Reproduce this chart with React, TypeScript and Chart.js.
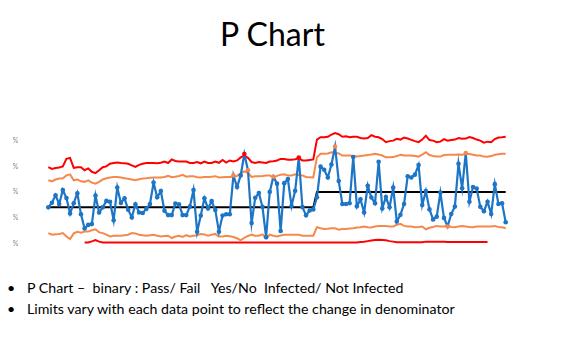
import React, { useEffect, useRef } from "react";
import { Chart, registerables } from "chart.js";

Chart.register(...registerables);

// Sample proportions (%), one per subgroup
const proportion: number[] = [
  14.1, 15.9, 18.8, 15.4, 20.8, 17.7, 11.7, 15.7, 19.6, 11.4,
  5.9, 7.3, 7.6, 18.7, 12.1, 14.1, 16.6, 16.3, 9.1, 21.8,
  15.8, 17.6, 13.2, 10.2, 15.3, 12.1, 11.9, 13.5, 15.4, 23.7,
  18.0, 20.4, 12.8, 11.1, 11.1, 15.6, 15.3, 11.1, 11.1, 14.4,
  20.8, 4.6, 10.9, 17.6, 13.7, 16.5, 13.1, 4.6, 10.9, 11.4,
  11.4, 26.5, 22.0, 26.5, 34.8, 28.5, 8.0, 17.8, 19.7, 14.3,
  2.5, 20.1, 26.0, 23.3, 4.9, 23.5, 25.1, 14.6, 20.5, 33.4,
  14.2, 11.0, 12.9, 13.3, 18.0, 29.9, 28.7, 25.7, 30.7, 37.7,
  24.3, 15.4, 15.4, 15.7, 33.6, 14.5, 17.2, 12.1, 22.5, 17.9,
  15.7, 31.8, 13.7, 18.1, 14.1, 21.8, 8.6, 11.2, 15.4, 26.2,
  25.7, 26.8, 30.5, 15.0, 20.4, 13.3, 9.4, 10.5, 19.8, 10.0,
  6.7, 11.5, 14.4, 31.0, 21.5, 35.2, 16.3, 22.0, 21.4, 14.3,
  12.6, 16.3, 11.5, 23.1, 15.4, 15.7, 8.3,
];

// Centre line per phase
const phaseCentre: number[] = [14.1, 20.1];
const phaseStartSample: number[] = [1, 75];

// Upper control limit (3 sigma)
const ucl: number[] = [
  29.7, 29.0, 29.4, 29.6, 30.0, 32.9, 33.3, 29.4, 29.7, 29.7,
  28.5, 29.2, 27.9, 27.4, 28.5, 29.7, 30.0, 31.0, 31.3, 31.5,
  31.3, 31.2, 31.0, 30.4, 29.8, 30.6, 31.0, 31.3, 31.3, 31.3,
  31.2, 31.4, 31.9, 31.3, 32.7, 32.1, 31.9, 31.9, 31.9, 31.3,
  31.3, 31.7, 31.2, 31.9, 31.3, 31.3, 31.9, 31.4, 32.5, 31.5,
  32.3, 31.9, 32.3, 33.5, 34.2, 33.3, 31.7, 31.3, 31.7, 31.5,
  31.3, 31.9, 32.0, 32.3, 32.9, 32.9, 32.6, 32.6, 32.8, 33.1,
  32.3, 32.3, 32.5, 32.7, 40.4, 41.3, 41.3, 41.5, 42.3, 42.9,
  42.5, 41.5, 41.7, 41.3, 41.5, 41.5, 41.0, 40.8, 41.0, 42.1,
  41.5, 41.3, 40.6, 39.4, 39.8, 40.0, 40.7, 40.4, 41.2, 40.8,
  40.3, 39.8, 39.4, 40.4, 41.9, 40.2, 40.0, 39.4, 39.6, 40.6,
  40.0, 40.2, 40.4, 41.0, 40.7, 40.8, 41.4, 41.0, 40.4, 40.0,
  39.2, 39.6, 39.4, 40.6, 41.2, 41.3, 41.5,
];

// Upper warning limit (2 sigma)
const uwl: number[] = [
  24.6, 24.2, 24.9, 25.3, 25.4, 26.5, 26.9, 24.6, 24.9, 24.2,
  24.0, 24.6, 23.7, 23.3, 24.0, 24.9, 25.4, 25.7, 25.9, 25.9,
  25.7, 25.4, 25.2, 24.9, 24.6, 25.0, 25.3, 25.4, 25.6, 25.7,
  25.7, 25.7, 25.9, 26.3, 25.8, 26.0, 26.3, 26.7, 26.0, 26.2,
  26.2, 25.8, 25.7, 25.9, 25.9, 26.0, 26.2, 25.7, 25.8, 25.9,
  25.9, 26.0, 26.3, 27.3, 28.1, 27.5, 25.9, 26.2, 26.2, 26.3,
  26.5, 26.5, 25.6, 26.3, 26.8, 26.9, 26.5, 26.5, 26.9, 26.7,
  26.5, 25.9, 25.8, 25.7, 33.5, 34.9, 34.9, 35.0, 35.5, 35.3,
  35.0, 34.2, 34.2, 34.2, 34.0, 33.8, 34.0, 34.2, 34.4, 34.6,
  34.9, 34.6, 34.2, 33.5, 33.5, 33.6, 34.0, 34.5, 34.2, 34.2,
  34.2, 34.0, 33.8, 34.6, 35.5, 34.4, 34.0, 33.8, 33.8, 34.4,
  34.5, 34.5, 34.5, 34.6, 34.5, 34.8, 34.8, 34.5, 34.2, 34.2,
  33.8, 33.7, 34.0, 34.5, 34.7, 34.9, 34.9,
];

// Lower warning limit (2 sigma)
const lwl: number[] = [
  4.1, 3.5, 3.7, 3.8, 4.1, 2.8, 1.8, 4.0, 4.6, 4.3,
  4.7, 4.7, 5.2, 5.6, 4.4, 4.1, 3.5, 2.8, 3.1, 3.1,
  3.1, 3.3, 3.5, 4.1, 4.0, 3.5, 3.3, 3.1, 3.3, 3.5,
  3.1, 2.8, 3.0, 3.1, 2.2, 2.8, 3.1, 2.6, 3.3, 2.8,
  3.1, 3.3, 3.8, 3.6, 3.1, 3.5, 3.8, 2.8, 2.8, 3.1,
  2.9, 2.6, 2.1, 1.3, 2.3, 3.0, 3.5, 3.1, 3.1, 3.6,
  2.1, 3.5, 3.1, 2.8, 3.2, 3.5, 3.5, 3.5, 3.5, 3.5,
  3.1, 3.1, 3.1, 3.1, 6.4, 6.0, 5.7, 5.8, 6.0, 6.0,
  5.4, 5.7, 5.7, 5.9, 6.0, 6.3, 6.4, 6.7, 6.4, 6.3,
  6.7, 6.9, 6.9, 6.9, 6.7, 6.7, 7.3, 7.7, 6.9, 6.7,
  6.7, 6.4, 6.5, 6.7, 5.6, 6.2, 6.5, 6.9, 6.7, 6.7,
  7.0, 6.5, 6.4, 6.7, 6.9, 6.7, 6.5, 6.4, 6.7, 6.7,
  6.7, 6.7, 6.7, 6.9, 6.5, 6.4, 6.0,
];

// Lower control limit (3 sigma), shown only where it exists
const lcl: (number | null)[] = [
  null, null, null, null, null, null, null, null, null, null,
  0.5, 0.5, 0.9, 1.4, 0.8, 0.5, 0.5, 0.5, 0.5, 0.5,
  0.5, 0.5, 0.5, 0.5, 0.5, 0.5, 0.5, 0.5, 0.5, 0.5,
  0.5, 0.5, 0.5, 0.5, 0.5, 0.5, 0.5, 0.5, 0.5, 0.5,
  0.5, 0.5, 0.5, 0.5, 0.5, 0.5, 0.5, 0.5, 0.5, 0.5,
  0.5, 0.5, 0.5, 0.5, 0.5, 0.5, 0.5, 0.5, 0.5, 0.5,
  0.5, 0.5, 0.5, 0.5, 0.5, 0.5, 0.5, 0.5, 0.5, 0.5,
  0.5, 0.5, 0.5, 0.5, 0.5, 0.5, 0.5, 0.5, 0.5, 0.5,
  0.5, 0.5, 0.5, 0.5, 0.5, 0.5, 0.7, 0.8, 1.0, 1.2,
  1.4, 1.5, 1.4, 1.3, 1.0, 0.8, 0.6, 0.6, 0.6, 0.6,
  0.6, 0.6, 0.6, 0.6, 0.8, 0.8, 0.8, 0.8, 0.8, 0.8,
  0.7, 0.7, 0.7, 0.7, 0.7, 0.7, 0.7, 0.7, 0.7, 0.7,
  0.7, 0.7, null, null, null, null, null,
];

const yTickValues: number[] = [0, 10, 20, 30, 40];
const yTickLabel = "%";

const titleText = "P Chart";
const bullets: string[] = [
  "P Chart \u2013  binary : Pass/ Fail   Yes/No  Infected/ Not Infected",
  "Limits vary with each data point to reflect the change in denominator",
];

const RED = "#FF0000";
const ORANGE = "#F5894B";
const BLUE = "#1C75C6";

function PChart() {
  const ref = useRef<HTMLCanvasElement | null>(null);
  useEffect(() => {
    if (!ref.current) return;
    const labels = proportion.map((_, i) => String(i + 1));
    const centre = proportion.map((_, i) => {
      let c = phaseCentre[0];
      phaseStartSample.forEach((s, p) => {
        if (i + 1 >= s) c = phaseCentre[p];
      });
      return c;
    });
    const pointColors = proportion.map((v, i) => {
      const lo = lcl[i];
      if (v > ucl[i] || (lo !== null && v < lo)) return RED;
      if (v > uwl[i] || v < lwl[i]) return ORANGE;
      return BLUE;
    });
    const limitLine = (data: (number | null)[], color: string) => ({
      data,
      borderColor: color,
      borderWidth: 2,
      pointRadius: 0,
      tension: 0,
      spanGaps: false,
      fill: false,
    });
    const chart = new Chart(ref.current, {
      type: "line",
      data: {
        labels,
        datasets: [
          {
            data: proportion,
            borderColor: BLUE,
            borderWidth: 2.2,
            pointRadius: 2.3,
            pointBorderWidth: 0,
            pointBackgroundColor: pointColors,
            tension: 0,
            fill: false,
          },
          {
            data: centre,
            borderColor: "#000000",
            borderWidth: 2,
            pointRadius: 0,
            tension: 0,
            fill: false,
          },
          limitLine(ucl, RED),
          limitLine(uwl, ORANGE),
          limitLine(lwl, ORANGE),
          limitLine(lcl, RED),
        ] as any,
      },
      options: {
        animation: false,
        responsive: false,
        maintainAspectRatio: false,
        layout: { padding: { left: 0, right: 55.3, top: 3.2, bottom: 2.4 } },
        plugins: {
          legend: { display: false },
          tooltip: { enabled: false },
          title: { display: false },
        },
        scales: {
          x: { display: false, offset: false },
          y: {
            min: -4,
            max: 48,
            grid: { display: false, drawTicks: false },
            border: { display: false },
            afterBuildTicks: (s: any) => {
              s.ticks = yTickValues.map((v) => ({ value: v }));
            },
            afterFit: (s: any) => {
              s.width = 48.3;
              s.paddingTop = 0;
              s.paddingBottom = 0;
            },
            ticks: {
              padding: 30,
              color: "#8a8a8a",
              font: { size: 7, family: "Lato" },
              callback: () => yTickLabel,
            },
          },
        },
      } as any,
    });
    return () => chart.destroy();
  }, []);
  return (
    <canvas
      ref={ref}
      width={561}
      height={142}
      style={{ position: "absolute", left: 0, top: 116, width: 561, height: 142 }}
    />
  );
}

export default function App() {
  return (
    <div
      style={{
        position: "fixed",
        left: 0,
        top: 0,
        width: 561,
        height: 355,
        background: "#ffffff",
        overflow: "hidden",
        fontFamily: "Lato, 'Open Sans', sans-serif",
        color: "#000000",
      }}
    >
      <div
        style={{
          position: "absolute",
          left: 0,
          top: 15,
          width: 545,
          textAlign: "center",
          fontSize: 32,
          lineHeight: "38px",
        }}
      >
        {titleText}
      </div>
      <PChart />
      {bullets.map((b, i) => (
        <div
          key={i}
          style={{
            position: "absolute",
            left: 0,
            top: 277 + i * 21,
            height: 21,
            fontSize: 14.2,
            lineHeight: "21px",
            whiteSpace: "pre",
          }}
        >
          <span style={{ position: "absolute", left: 7 }}>{"\u2022"}</span>
          <span style={{ position: "absolute", left: 27 }}>{b}</span>
        </div>
      ))}
    </div>
  );
}
